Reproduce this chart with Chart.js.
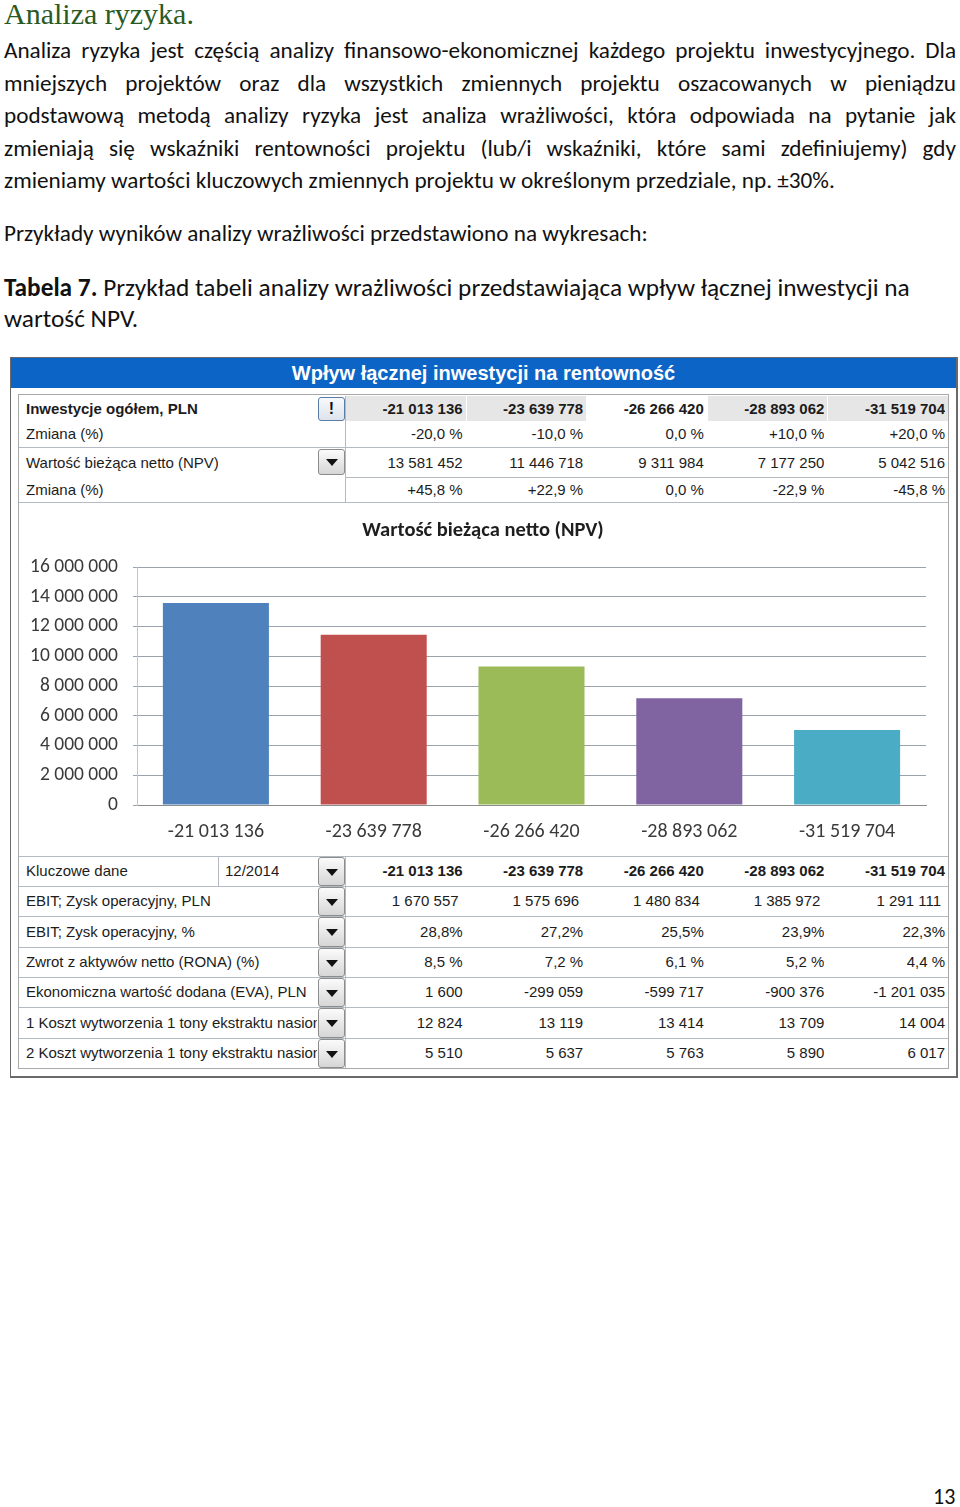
<!DOCTYPE html>
<html lang="pl">
<head>
<meta charset="utf-8">
<title>Analiza ryzyka</title>
<script src="https://cdn.jsdelivr.net/npm/chart.js@4.4.1/dist/chart.umd.min.js"></script>
<style>
  html, body { margin: 0; padding: 0; background: #fff; }
  body { width: 960px; height: 1507px; position: relative; overflow: hidden; }
  .abs { position: absolute; }
  h1 { position: absolute; left: 4px; top: -3px; margin: 0; font: 30px "Liberation Serif", serif; color: #2a5a24; font-weight: normal; }
  .para { position: absolute; left: 4px; width: 952px; font-family: Carlito, Lato, sans-serif; font-size: 23.2px; color: #111; white-space: nowrap; }
  .para div { height: 32.5px; line-height: 32.5px; text-align: justify; text-align-last: justify; }
  .para div.last { text-align-last: left; }
  .cap { position: absolute; left: 4px; font-family: Carlito, Lato, sans-serif; font-size: 25.3px; color: #111; line-height: 31px; white-space: nowrap; }
  .frame { position: absolute; left: 10px; top: 357px; width: 945px; height: 718px; border: 1px solid #6a6a6a; border-right-width: 2px; border-bottom-width: 2px; }
  .head { position: absolute; left: 11px; top: 358px; width: 945px; height: 30px; background: #0b64c6; color: #fff; font: bold 20px "Liberation Sans", Arial, sans-serif; text-align: center; line-height: 30px; }
  .panel { position: absolute; left: 18px; top: 394px; width: 929px; height: 673px; border: 1px solid #a9a9a9; }
  .t { position: absolute; font: 15px "Liberation Sans", Arial, sans-serif; color: #1c1c1c; white-space: nowrap; overflow: hidden; }
  .hl { position: absolute; height: 1px; background: #b3bac3; }
  .vl { position: absolute; width: 1px; background: #b3bac3; }
  .btn { position: absolute; box-sizing: border-box; border: 1px solid #8c8c8c; border-radius: 3px; background: linear-gradient(#fbfbfb, #d6d6d6); }
  .btn.dd::after { content: ""; position: absolute; left: 50%; top: 50%; margin-left: -6px; margin-top: -3px; border-left: 6px solid transparent; border-right: 6px solid transparent; border-top: 7px solid #111; }
  .btn.warn { border-color: #5b7ca4; background: linear-gradient(#f7f9fc, #dde4ec); font: bold 16px "Liberation Sans", Arial, sans-serif; text-align: center; color: #111; }
  .pnum { position: absolute; left: 933px; top: 1483px; font: 22px Carlito, Lato, sans-serif; color: #111; }
</style>
</head>
<body>
<h1>Analiza ryzyka.</h1>
<div class="para" style="top:34px">
  <div>Analiza ryzyka jest częścią analizy finansowo-ekonomicznej każdego projektu inwestycyjnego. Dla</div>
  <div>mniejszych projektów oraz dla wszystkich zmiennych projektu oszacowanych w pieniądzu</div>
  <div>podstawową metodą analizy ryzyka jest analiza wrażliwości, która odpowiada na pytanie jak</div>
  <div>zmieniają się wskaźniki rentowności projektu (lub/i wskaźniki, które sami zdefiniujemy) gdy</div>
  <div class="last">zmieniamy wartości kluczowych zmiennych projektu w określonym przedziale, np. ±30%.</div>
</div>
<div class="para" style="top:217px"><div class="last">Przykłady wyników analizy wrażliwości przedstawiono na wykresach:</div></div>
<div class="cap" style="top:272px"><b>Tabela 7.</b> Przykład tabeli analizy wrażliwości przedstawiająca wpływ łącznej inwestycji na<br>wartość NPV.</div>

<div class="frame"></div>
<div class="head">Wpływ łącznej inwestycji na rentowność</div>
<div class="panel"></div>
<div id="tables"></div>
<canvas id="npvChart" width="926" height="349" style="position:absolute;left:20px;top:504px"></canvas>
<div class="pnum">13</div>

<script>
// dane
const investments = [-21013136, -23639778, -26266420, -28893062, -31519704];
const invChange = ['-20,0 %', '-10,0 %', '0,0 %', '+10,0 %', '+20,0 %'];
const npv = [13581452, 11446718, 9311984, 7177250, 5042516];
const npvChange = ['+45,8 %', '+22,9 %', '0,0 %', '-22,9 %', '-45,8 %'];
const barColors = ['#4f81bd', '#c0504d', '#9bbb59', '#8064a2', '#4bacc6'];
const yMax = 16000000;
const yStep = 2000000;

const keyLabels = [
  'EBIT; Zysk operacyjny, PLN',
  'EBIT; Zysk operacyjny, %',
  'Zwrot z aktywów netto (RONA) (%)',
  'Ekonomiczna wartość dodana (EVA), PLN',
  '1 Koszt wytworzenia 1 tony ekstraktu nasion',
  '2 Koszt wytworzenia 1 tony ekstraktu nasion'
];
const ebitPln = ['1 670 557', '1 575 696', '1 480 834', '1 385 972', '1 291 111'];
const ebitPct = ['28,8%', '27,2%', '25,5%', '23,9%', '22,3%'];
const rona = ['8,5 %', '7,2 %', '6,1 %', '5,2 %', '4,4 %'];
const eva = ['1 600', '-299 059', '-599 717', '-900 376', '-1 201 035'];
const koszt1 = ['12 824', '13 119', '13 414', '13 709', '14 004'];
const koszt2 = ['5 510', '5 637', '5 763', '5 890', '6 017'];
const keyRows = [ebitPln, ebitPct, rona, eva, koszt1, koszt2];

function fmt(n) {
  return String(n).replace(/\B(?=(\d{3})+(?!\d))/g, ' ');
}

// tabele
const box = document.getElementById('tables');
function el(cls, css, text) {
  const d = document.createElement('div');
  d.className = cls;
  d.style.cssText = css;
  if (text !== undefined) d.textContent = text;
  box.appendChild(d);
  return d;
}
const colX = 345, colW = 120.6;
function valueRow(vals, top, h, bold, extra) {
  vals.forEach((v, i) => {
    const left = colX + colW * i;
    el('t', `left:${left}px;top:${top}px;width:${colW - 3 - (extra || 0)}px;height:${h}px;line-height:${h}px;text-align:right;${bold ? 'font-weight:bold;' : ''}`, v);
  });
}

// górna tabela
investments.forEach((v, i) => {
  if (i !== 2) el('abs', `left:${colX + colW * i + 1}px;top:396px;width:${colW - 1}px;height:25px;background:#e6e6e6`);
});
el('t', 'left:26px;top:396px;height:25px;line-height:25px;font-weight:bold', 'Inwestycje ogółem, PLN');
el('t', 'left:26px;top:421px;height:26px;line-height:26px', 'Zmiana (%)');
el('t', 'left:26px;top:448px;height:29px;line-height:29px', 'Wartość bieżąca netto (NPV)');
el('t', 'left:26px;top:477px;height:26px;line-height:26px', 'Zmiana (%)');
valueRow(investments.map(fmt), 396, 25, true);
valueRow(invChange, 421, 26, false);
valueRow(npv.map(fmt), 448, 29, false);
valueRow(npvChange, 477, 26, false);
el('hl', 'left:19px;top:447px;width:929px');
el('hl', `left:${colX}px;top:477px;width:${948 - colX}px`);
el('hl', 'left:19px;top:502px;width:929px');
el('vl', `left:${colX}px;top:396px;height:107px`);
el('btn warn', 'left:318px;top:397px;width:27px;height:24px;line-height:22px', '!');
el('btn dd', 'left:318px;top:449px;width:27px;height:26px');

// dolna tabela
const rowTops = [856, 886, 916, 947, 977, 1007, 1038, 1068];
rowTops.slice(0, 7).forEach(t => el('hl', `left:19px;top:${t}px;width:929px`));
el('vl', `left:${colX}px;top:856px;height:212px`);
el('vl', 'left:218px;top:856px;height:30px');
el('t', 'left:26px;top:856px;height:30px;line-height:30px', 'Kluczowe dane');
el('t', 'left:225px;top:856px;height:30px;line-height:30px', '12/2014');
valueRow(investments.map(fmt), 856, 30, true);
el('btn dd', 'left:318px;top:857px;width:27px;height:29px');
keyRows.forEach((vals, r) => {
  const top = rowTops[r + 1], h = rowTops[r + 2] - top;
  el('t', `left:26px;top:${top}px;width:291px;height:${h}px;line-height:${h}px`, keyLabels[r]);
  valueRow(vals, top, h, false, r === 0 ? 4 : 0);
  el('btn dd', `left:318px;top:${top + 1}px;width:27px;height:${h - 1}px`);
});

// wykres
// etykiety osi Y wychodzą poza lewy margines - poszerzamy obszar przycinania
const widenYLabels = {
  id: 'widenYLabels',
  afterLayout(chart) { chart.scales.y.left = 0; }
};

const ctx = document.getElementById('npvChart').getContext('2d');
new Chart(ctx, {
  type: 'bar',
  data: {
    labels: investments.map(fmt),
    datasets: [{
      label: 'Wartość bieżąca netto (NPV)',
      data: npv,
      backgroundColor: barColors,
      barPercentage: 0.672,
      categoryPercentage: 1
    }]
  },
  plugins: [widenYLabels],
  options: {
    responsive: false,
    animation: false,
    devicePixelRatio: 1,
    layout: { padding: { left: 20, right: 20, top: 0, bottom: 0 } },
    plugins: {
      legend: { display: false },
      tooltip: { enabled: false },
      title: {
        display: true,
        text: 'Wartość bieżąca netto (NPV)',
        color: '#1e1e1e',
        font: { family: 'Carlito, Lato', size: 20.5, weight: 'bold' },
        padding: { top: 15, bottom: 23.4 }
      }
    },
    scales: {
      x: {
        grid: { display: false },
        border: { color: '#8c8c8c' },
        ticks: { color: '#3a3a3a', font: { family: 'Carlito, Lato', size: 20 }, padding: 7 },
        afterFit: s => { s.height = 48; }
      },
      y: {
        min: 0,
        max: yMax,
        ticks: { stepSize: yStep, callback: v => fmt(v), color: '#3a3a3a', font: { family: 'Carlito, Lato', size: 19.5 }, padding: 15 },
        grid: { color: '#9aa3ad', tickLength: 4 },
        border: { color: '#c4c4c4' },
        afterFit: s => { s.width = 97; }
      }
    }
  }
});
</script>
</body>
</html>
